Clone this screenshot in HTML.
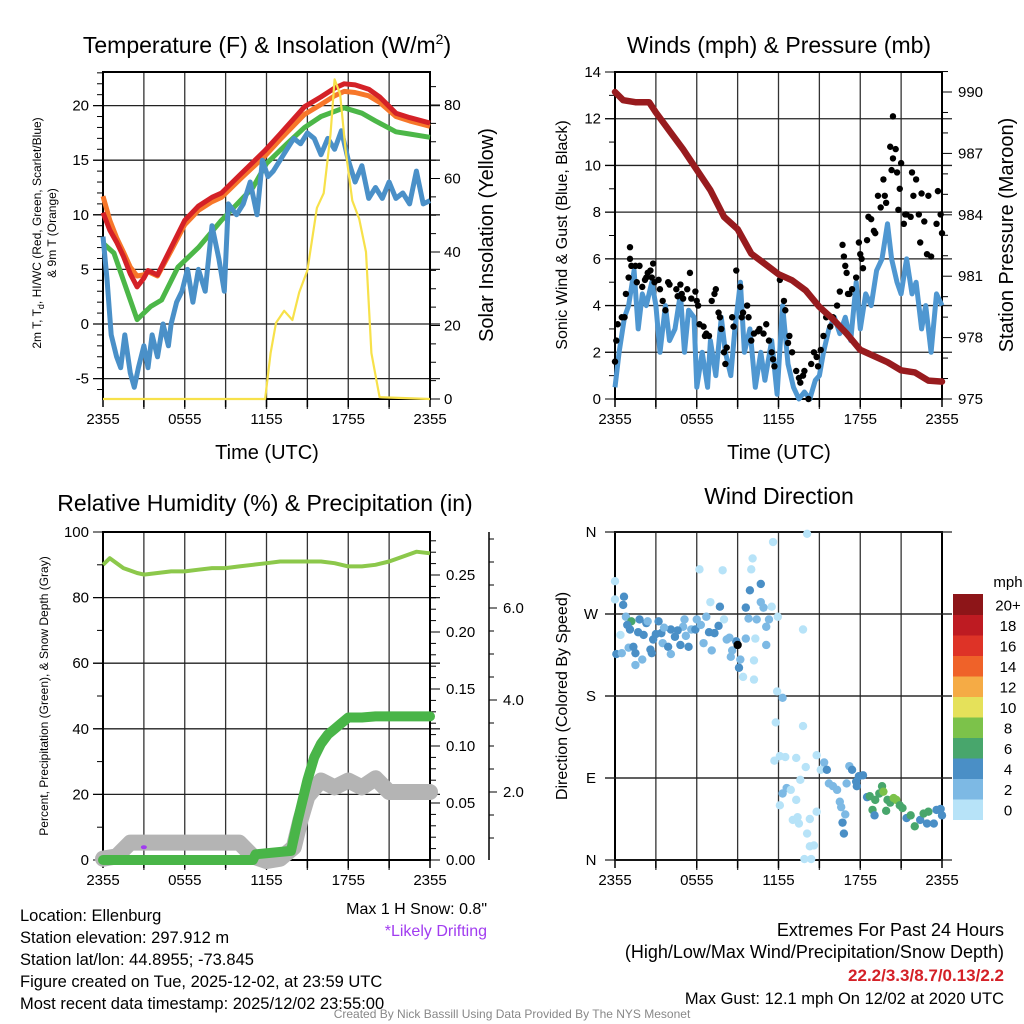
<!DOCTYPE html>
<html><head><meta charset="utf-8"><title>Mesonet Station Summary</title>
<style>
html,body{margin:0;padding:0;background:#fff;}
svg{display:block;font-family:"Liberation Sans",sans-serif;}
</style></head>
<body>
<svg id="chart" width="1024" height="1024" viewBox="0 0 1024 1024"></svg>
<script>
// ---------------- DATA ----------------
const tempHours = [0,0.5,1,1.5,2,2.5,3,3.3,4,5,6,7,8,8.7,10,11.9,13,14.8,16,17,17.7,18.5,19.5,20.3,21.5,22.5,24];
const tempRed   = [10.2,8.6,7.5,6.2,4.6,3.4,4.2,4.9,4.5,7,9.5,10.8,11.6,12,13.6,15.9,17.4,19.9,20.8,21.6,22,21.9,21.5,20.8,19.3,18.9,18.4];
const temp9m    = [11.7,9.5,7.9,6.6,5.2,4.4,4.5,4.8,4.4,6.7,9.1,10.4,11.2,11.6,13.2,15.4,16.9,19.2,20.1,20.9,21.3,21.2,20.9,20.3,19,18.6,18.1];
const dewHours  = [0,0.8,1.5,2.5,3.5,4.3,5.5,7,8.7,11,12,13.5,14.8,16,17.7,19,20,21.5,22.5,24];
const dewGreen  = [7.4,6.5,4,0.4,1.6,2.2,5.2,7,9.5,12.5,14.7,16.5,18,19,19.8,19.3,18.6,17.6,17.4,17.1];
const wcHours   = [0,0.3,0.6,1,1.3,1.6,2,2.3,2.6,3,3.3,3.6,4,4.4,4.8,5,5.4,5.8,6.2,6.6,7,7.5,8,8.5,8.9,9.2,9.8,10.3,10.8,11.3,11.7,12.1,12.5,13,13.5,14,14.5,15,15.5,16,16.5,17,17.5,18,18.5,19,19.5,20,20.5,21,21.5,22,22.5,23,23.5,24];
const wcBlue    = [8,4,-1,-3,-4,-1,-4.5,-5.8,-4,-2,-4,-1,-3,0,-2,0,2,3,5,2,5,3,9,6,3,11,10,11,13,10,15,13.5,14,15,16,17,16.5,17.5,17,15.5,17,16,17.7,15,13,14.5,11.5,12.5,11.5,13,11.5,12,11,14,11,11.3];
const solarHours = [0,11.9,12.3,12.7,13.3,13.9,14.4,15,15.7,16.2,16.7,17,17.4,17.8,18.3,18.8,19.3,19.7,20.3,24];
const solarVals  = [0,0,12.5,20.7,24,21.5,29,35,52,56,72,87,83,68,54,49,40,12.5,0.5,0];
const presHours = [0,0.6,1.5,2,2.5,3,4,5,6,7,8,9,10,11,12,13,14,15,16,17,18,19,20,21,22,23,24];
const presVals  = [990.0,989.6,989.5,989.5,989.5,989,988.1,987.2,986.2,985.2,983.9,983.3,982.1,981.6,981.1,980.8,980.3,979.5,978.9,978.2,977.4,977.1,976.8,976.4,976.3,975.9,975.85];
const windHours = [0,0.3,0.7,1,1.4,1.7,2,2.3,2.7,3,3.3,3.7,4,4.4,4.8,5.1,5.4,5.8,6,6.4,6.8,7,7.4,7.8,8.1,8.5,8.8,9.2,9.5,9.9,10.3,10.7,11,11.5,11.9,12.3,12.7,13.1,13.5,13.9,14.3,14.7,15,15.3,15.7,16.1,16.5,16.9,17.3,17.7,18,18.4,18.8,19.2,19.6,20,20.3,20.7,21,21.4,21.8,22.1,22.5,22.8,23.2,23.6,24];
const windVals  = [0.5,2,3.5,4,5.5,3,4.5,4,5,4,2,4,2.5,3,4.5,2,3.8,3.5,0.5,2,0.5,2.5,1,3.5,2,1,3,5,2,3,0.5,2,0.8,2.5,0.2,4,1.5,0.5,0,0.3,0,0.8,1,2,3,3.5,2.8,3.5,2.5,5,3,4.5,4,5.5,6,7.5,6,5,4.5,6,4.5,5,3,4,2,4.5,4];
const gustHours = [0,0.1,0.2,0.5,0.7,0.8,1,1.1,1.1,1.2,1.5,1.6,1.8,2,2.2,2.3,2.4,2.6,2.8,2.7,2.9,3.2,3.3,3.5,3.7,3.9,4,4.5,4.6,4.8,4.9,5,5.3,5.5,5.6,5.9,6,6.1,6.2,6.5,6.6,6.7,6.9,7.1,7.3,7.4,7.6,7.7,7.8,8,8.1,8.2,8.6,8.7,8.9,9.2,9.3,9.4,9.7,9.8,10,10.2,10.5,10.6,10.9,11.1,11.3,11.5,11.6,11.7,12.1,12.4,12.5,12.7,12.8,13,13.3,13.5,13.6,13.8,13.9,14.2,14.4,14.6,14.8,14.9,15.1,15.3,15.5,15.8,16,16.3,16.5,16.7,16.8,16.9,17,17.1,17.2,17.4,17.7,17.9,18,18.1,18.2,18.5,18.6,18.8,19,19.1,19.3,19.5,19.7,19.8,19.9,20.2,20.3,20.4,20.4,20.6,20.7,20.8,20.9,21,21.2,21.3,21.4,21.7,21.8,21.9,22.1,22.3,22.4,22.5,22.7,22.9,23,23.2,23.6,23.7,23.9,24];
const gustVals  = [1.6,2.5,3.2,3.5,3.5,4.5,5.2,6,6.5,5.7,5.7,5,5.7,4.8,5.1,5.2,5.4,5.5,5.8,5.2,5,5.1,4.7,4.2,3.8,5,4.9,4.7,4.4,4.9,4.5,4.3,4.7,5.4,4.3,4.6,4.2,4,3.2,3.1,2.7,2.8,2.7,4.2,4.5,4.7,3.7,3.5,3,2,1.5,2.2,3.5,3.1,5.5,4.8,3.5,3.7,4,3.5,2.5,2.8,2.9,3,2.8,3.2,2.5,2,1.7,1.4,5.1,4.2,3.8,2.4,2.7,2,1.2,0.9,0.7,1,1.2,0,1.5,2,1.8,1.4,2.1,2.7,3.5,3.1,3.5,4,4.6,6.6,6.1,5.7,5.4,4.5,4.5,4.7,5.2,6.7,6.2,6,5.6,6.8,7.8,7.7,7.2,7.1,8.7,8.2,9.4,8.7,8.4,10.8,9.8,10.3,12.1,10.7,9.7,8.1,9,10.1,7.5,7.9,7.9,7.8,9.7,8.7,9.4,7.9,6.7,8.8,7.6,6.2,8.7,6.1,7.5,8.9,7.9,7.1];
const rhHours = [0,0.5,1.5,2.5,3,4,5,6,7,8,9,10,11,12,13,14,15,16,17,18,19,20,21,22,23,24];
const rhVals  = [90,92,89,87.5,87,87.5,88,88,88.5,89,89,89.5,90,90.5,91,91,91,91,90.5,89.5,89.5,90,91,92.5,94,93.5];
const precipHours = [0,11,11.2,13.8,14.3,15,15.5,16,16.5,17,17.5,18,19,20,24];
const precipVals  = [0,0,0.005,0.008,0.035,0.07,0.09,0.102,0.11,0.115,0.12,0.125,0.125,0.126,0.126];
const snowHours = [0,1,2,3,10,11,12,13,14,14.5,15,16,17,18,19,20,21,24];
const snowVals  = [0.55,0.6,0.9,0.9,0.9,0.6,0.5,0.55,0.8,1.4,1.9,2.25,2.1,2.25,2.1,2.3,2.0,2.0];
const driftHours = [3];
const driftVals  = [0.8];
const dirHours = [0,0,0.66,0.6,0.8,1.2,1.1,0.4,0.1,0.5,1.0,1.35,1.5,1.5,1.8,2.1,2.3,2.0,2.6,2.7,2.8,3.2,3.4,3.5,3.9,4.1,4.1,4.4,4.8,5.0,5.1,5.4,5.6,6.0,5.9,6.2,6.5,6.7,7.0,7.1,7.3,7.6,7.7,7.9,8.0,8.2,8.5,8.6,8.9,9.1,9.2,9.4,9.6,9.6,9.8,9.9,10.0,10.1,10.2,10.2,10.3,10.4,10.7,10.7,10.9,11.1,11.3,11.1,11.5,11.6,11.95,11.9,12.3,11.8,11.7,12.1,12.5,12.3,12.6,12.9,13.3,12.1,13.3,13.05,13.4,13.5,14.1,13.8,13.8,13.6,14.0,14.1,14.3,14.6,14.3,13.9,14.4,14.8,14.8,15.1,15.35,15.55,15.7,16.0,16.3,16.5,16.6,16.7,16.8,16.9,17.0,17.2,17.4,17.7,17.75,17.9,18.2,18.5,18.7,18.9,19.1,19.05,19.4,19.6,19.7,19.9,20.0,20.2,20.45,20.65,20.9,21.1,21.4,21.7,22.0,22.4,22.65,23.0,22.9,23.4,23.6,23.9,24.0,0.9,1.7,2.4,3.0,3.6,4.6,5.2,6.3,6.9,8.4,9.0];
const dirDeg   = [306,286,289,280,267,262,253,247,226,227,233,234,227,214,264,247,260,220,231,227,242,262,249,238,234,226,253,245,236,256,264,234,253,264,253,319,238,267,283,230,249,257,278,318,264,242,223,230,240,211,220,201,277,243,265,296,319,331,219,198,243,264,283,303,277,256,264,236,278,349,267,185,178,151,109,114,113,73,79,77,66,60,112,44,47,40,358,253,147,88,102,29,45,16,15,1,1,53,115,99,107,99,84,81,77,64,58,41,29,50,84,103,99,86,81,92,93,69,70,55,66,49,73,81,75,54,66,63,68,66,60,57,46,49,37,44,51,53,40,40,55,56,49,258,250,262,248,255,252,246,258,250,244,236];
const dirSpeed = [1,1,5,5,3,7,5,1,5,3,3,5,5,3,5,5,5,3,5,5,5,5,5,3,5,3,5,5,5,3,3,5,3,3,5,1,3,3,1,3,5,5,5,1,1,3,3,3,5,5,3,1,5,3,3,5,1,1,1,1,1,3,3,5,3,3,3,3,1,1,1,1,3,1,1,1,1,3,3,1,1,1,1,1,1,1,1,1,1,1,1,1,1,1,1,1,1,1,1,1,3,5,3,3,3,3,3,5,5,3,3,3,5,5,5,5,5,5,7,7,7,5,7,7,9,7,7,7,9,9,7,7,5,7,7,5,7,7,5,5,5,5,5,5,5,3,5,3,5,3,3,5,3];
const speedBinLabels = ["0","2","4","6","8","10","12","14","16","18","20+"];
const speedBinColors = ["#b7e3f8","#7db9e4","#4a8fc6","#48a66c","#7cc24a","#e5e15a","#f5ab45","#ef6229","#de3327","#be1b22","#8d1518"];
const timeTickLabels = ["2355","0555","1155","1755","2355"];
const tempTicks = [-5,0,5,10,15,20];
const solarTicks = [0,20,40,60,80];
const windTicks = [0,2,4,6,8,10,12,14];
const presTicks = [975,978,981,984,987,990];
const rhTicks = [0,20,40,60,80,100];
const precipTicks = [0.00,0.05,0.10,0.15,0.20,0.25];
const snowTicks = [2.0,4.0,6.0];
const dirTicks = [0,90,180,270,360];
const dirTickLabels = ["N","E","S","W","N"];

// ---------------- HELPERS ----------------
const NS = "http://www.w3.org/2000/svg";
const svg = document.getElementById("chart");
function el(tag, attrs, name, parent) {
  const e = document.createElementNS(NS, tag);
  for (const k in attrs) e.setAttribute(k, attrs[k]);
  
  
  (parent || svg).appendChild(e);
  return e;
}
function txt(x, y, s, size, name, opts) {
  opts = opts || {};
  const t = el("text", {x: x, y: y, "font-size": size, fill: opts.fill || "#000",
    "text-anchor": opts.anchor || "middle", "font-weight": opts.weight || "normal"}, name);
  if (opts.rot) t.setAttribute("transform", "rotate(" + opts.rot + " " + x + " " + y + ")");
  t.textContent = s;
  return t;
}
function span(t, s, attrs) {
  const sp = document.createElementNS(NS, "tspan");
  for (const k in attrs) sp.setAttribute(k, attrs[k]);
  sp.textContent = s; t.appendChild(sp); return sp;
}
function scale(d0, d1, r0, r1) { return v => r0 + (v - d0) * (r1 - r0) / (d1 - d0); }
function pathFrom(xs, ys, fx, fy) {
  return xs.map((h, i) => (i ? "L" : "M") + fx(h).toFixed(1) + "," + fy(ys[i]).toFixed(1)).join("");
}
function panelFrame(L, R, T, B, prefix, hGridVals, fy) {
  const fx = scale(0, 24, L, R);
  for (let h = 3; h < 24; h += 3) {
    el("line", {x1: fx(h), x2: fx(h), y1: T - 1, y2: B + 10, stroke: "#333", "stroke-width": 1.3}, prefix + "-vgrid");
  }
  hGridVals.forEach(v => {
    el("line", {x1: L - 10, x2: R + 10, y1: fy(v), y2: fy(v), stroke: "#222", "stroke-width": 1.3}, prefix + "-hgrid");
  });
  el("rect", {x: L, y: T, width: R - L, height: B - T, fill: "none", stroke: "#000", "stroke-width": 2}, prefix + "-plot-frame");
  for (let h = 0; h <= 24; h += 3) {
    el("line", {x1: fx(h), x2: fx(h), y1: B, y2: B + 8, stroke: "#000", "stroke-width": 1.5}, prefix + "-x-tick");
  }
  timeTickLabels.forEach((s, i) => txt(fx(i * 6), B + 25, s, 15, prefix + "-x-tick-label"));
  return fx;
}

// ---------------- PANEL 1 ----------------
(function(){
  const L = 103, R = 430, T = 72, B = 399;
  const fy = scale(0, 5, 324, 269.4);
  const fyS = scale(0, 80, 399, 105);
  const fx = panelFrame(L, R, T, B, "temp", tempTicks, fy);
  for (let v = -6; v <= 23; v++) el("line", {x1: L - (v % 5 === 0 ? 10 : 6), x2: L, y1: fy(v), y2: fy(v), stroke: "#000", "stroke-width": 1}, "temp-y-tick");
  tempTicks.forEach(v => txt(L - 14, fy(v) + 5, String(v), 15, "temp-y-tick-label", {anchor: "end"}));
  for (let v = 0; v <= 88; v += 5) el("line", {x1: R, x2: R + (v % 20 === 0 ? 10 : 6), y1: fyS(v), y2: fyS(v), stroke: "#000", "stroke-width": 1}, "solar-y-tick");
  solarTicks.forEach(v => txt(R + 14, fyS(v) + 5, String(v), 15, "solar-y-tick-label", {anchor: "start"}));
  el("path", {d: pathFrom(tempHours, temp9m, fx, fy), fill: "none", stroke: "#f7772a", "stroke-width": 5, "stroke-linejoin": "round"}, "temp-9m-line");
  el("path", {d: pathFrom(tempHours, tempRed, fx, fy), fill: "none", stroke: "#d42127", "stroke-width": 5, "stroke-linejoin": "round"}, "temp-2m-line");
  el("path", {d: pathFrom(dewHours, dewGreen, fx, fy), fill: "none", stroke: "#4cb748", "stroke-width": 5, "stroke-linejoin": "round"}, "dewpoint-line");
  el("path", {d: pathFrom(wcHours, wcBlue, fx, fy), fill: "none", stroke: "#4a90c8", "stroke-width": 5, "stroke-linejoin": "round"}, "windchill-line");
  el("path", {d: pathFrom(solarHours, solarVals, fx, fyS), fill: "none", stroke: "#f7e14a", "stroke-width": 2.2, "stroke-linejoin": "round"}, "solar-line");
  const t = txt(267, 53, "Temperature (F) & Insolation (W/m", 23, "temp-panel-title");
  span(t, "2", {dy: "-9", "font-size": "14"});
  span(t, ")", {dy: "9"});
  const yt = txt(41, 233, "2m T, T", 12, "temp-y-axis-title", {rot: -90});
  span(yt, "d", {dy: "3", "font-size": "9"});
  span(yt, ", HI/WC (Red, Green, Scarlet/Blue)", {dy: "-3"});
  txt(56, 233, "& 9m T (Orange)", 12, "temp-y-axis-title-2", {rot: -90});
  txt(267, 459, "Time (UTC)", 20, "temp-x-axis-title");
  txt(493, 235, "Solar Insolation (Yellow)", 20, "solar-y-axis-title", {rot: -90});
})();

// ---------------- PANEL 2 ----------------
(function(){
  const L = 615, R = 942, T = 72, B = 399;
  const fy = scale(0, 14, 399, 72);
  const fyP = scale(975, 990, 399, 92);
  const fx = panelFrame(L, R, T, B, "wind", windTicks.slice(1, 7), fy);
  for (let v = 0; v <= 14; v++) el("line", {x1: L - (v % 2 === 0 ? 10 : 6), x2: L, y1: fy(v), y2: fy(v), stroke: "#000", "stroke-width": 1}, "wind-y-tick");
  windTicks.forEach(v => txt(L - 14, fy(v) + 5, String(v), 15, "wind-y-tick-label", {anchor: "end"}));
  for (let v = 975; v <= 991; v++) el("line", {x1: R, x2: R + (v % 3 === 0 ? 10 : 6), y1: fyP(v), y2: fyP(v), stroke: "#000", "stroke-width": 1}, "pressure-y-tick");
  presTicks.forEach(v => txt(R + 16, fyP(v) + 5, String(v), 15, "pressure-y-tick-label", {anchor: "start"}));
  el("path", {d: pathFrom(windHours, windVals, fx, fy), fill: "none", stroke: "#4f97d1", "stroke-width": 5, "stroke-linejoin": "round"}, "sonic-wind-line");
  gustHours.forEach((h, i) => {
    el("circle", {cx: fx(h), cy: fy(gustVals[i]), r: 3.2, fill: "#000"}, "gust-point");
  });
  el("path", {d: pathFrom(presHours, presVals, fx, fyP), fill: "none", stroke: "#981b1e", "stroke-width": 6.5, "stroke-linejoin": "round", "stroke-linecap": "round"}, "pressure-line");
  txt(779, 53, "Winds (mph) & Pressure (mb)", 23, "wind-panel-title");
  txt(779, 459, "Time (UTC)", 20, "wind-x-axis-title");
  txt(567, 235, "Sonic Wind & Gust (Blue, Black)", 16, "wind-y-axis-title", {rot: -90});
  txt(1013, 235, "Station Pressure (Maroon)", 20, "pressure-y-axis-title", {rot: -90});
})();

// ---------------- PANEL 3 ----------------
(function(){
  const L = 103, R = 430, T = 532, B = 860;
  const fy = scale(0, 100, 860, 532);
  const fyP = scale(0, 0.25, 860, 575);
  const fyS = scale(0, 2, 884, 792);
  const fx = panelFrame(L, R, T, B, "rh", [20, 40, 60, 80], fy);
  for (let v = 0; v <= 100; v += 10) el("line", {x1: L - (v % 20 === 0 ? 10 : 6), x2: L, y1: fy(v), y2: fy(v), stroke: "#000", "stroke-width": 1}, "rh-y-tick");
  rhTicks.forEach(v => txt(L - 14, fy(v) + 5, String(v), 15, "rh-y-tick-label", {anchor: "end"}));
  for (let v = 0; v <= 0.285; v += 0.01) el("line", {x1: R, x2: R + (Math.round(v * 100) % 5 === 0 ? 10 : 6), y1: fyP(v), y2: fyP(v), stroke: "#000", "stroke-width": 1}, "precip-y-tick");
  precipTicks.forEach(v => txt(R + 16, fyP(v) + 5, v.toFixed(2), 15, "precip-y-tick-label", {anchor: "start"}));
  el("line", {x1: 489, x2: 489, y1: T, y2: B, stroke: "#000", "stroke-width": 1.5}, "snow-axis-line");
  for (let v = 0.5; v <= 7.5; v += 0.5) { if (fyS(v) < T || fyS(v) > B) continue;
    el("line", {x1: 489, x2: 489 + (v % 2 === 0 ? 8 : 5), y1: fyS(v), y2: fyS(v), stroke: "#000", "stroke-width": 1}, "snow-y-tick"); }
  snowTicks.forEach(v => txt(503, fyS(v) + 5, v.toFixed(1), 15, "snow-y-tick-label", {anchor: "start"}));
  el("path", {d: pathFrom(snowHours, snowVals, fx, fyS), fill: "none", stroke: "#b4b4b4", "stroke-width": 16, "stroke-linejoin": "round", "stroke-linecap": "round"}, "snow-depth-line");
  el("path", {d: pathFrom(precipHours, precipVals, fx, fyP), fill: "none", stroke: "#49b548", "stroke-width": 10, "stroke-linejoin": "round", "stroke-linecap": "round"}, "precip-line");
  el("path", {d: pathFrom(rhHours, rhVals, fx, fy), fill: "none", stroke: "#8cc84b", "stroke-width": 4, "stroke-linejoin": "round"}, "rh-line");
  driftHours.forEach((h, i) => {
    el("ellipse", {cx: fx(h), cy: fyS(driftVals[i]), rx: 3, ry: 2, fill: "#a13cf0"}, "drifting-marker");
  });
  txt(265, 511, "Relative Humidity (%) & Precipitation (in)", 23, "rh-panel-title");
  txt(48, 696, "Percent, Precipitation (Green), & Snow Depth (Gray)", 12, "rh-y-axis-title", {rot: -90});
})();

// ---------------- PANEL 4 ----------------
(function(){
  const L = 615, R = 942, T = 532, B = 860;
  const fy = scale(0, 360, 860, 532);
  const fx = panelFrame(L, R, T, B, "dir", [90, 180, 270], fy);
  dirTicks.forEach(v => el("line", {x1: L - 10, x2: R + 10, y1: fy(v), y2: fy(v), stroke: "#222", "stroke-width": 1.3}, "dir-y-tick"));
  dirTicks.forEach((v, i) => txt(591, fy(v) + 5, dirTickLabels[i], 15, "dir-y-tick-label"));
  dirHours.forEach((h, i) => {
    const c = speedBinColors[Math.min(10, Math.floor(dirSpeed[i] / 2))];
    el("circle", {cx: fx(h), cy: fy(dirDeg[i]), r: 4.2, fill: c}, "direction-point");
  });
  txt(779, 504, "Wind Direction", 23, "dir-panel-title");
  txt(567, 696, "Direction (Colored By Speed)", 16, "dir-y-axis-title", {rot: -90});
  const cbTop = 594, cbH = 20.5;
  speedBinColors.forEach((c, i) => {
    const y = cbTop + (10 - i) * cbH;
    el("rect", {x: 953, y: y, width: 30, height: cbH + 0.5, fill: c}, "colorbar-swatch");
    txt(1008, y + cbH / 2 + 6, speedBinLabels[i], 15, "colorbar-label");
  });
  txt(1008, 587, "mph", 15, "colorbar-title");
})();

// ---------------- FOOTER TEXT ----------------
const infoLines = ["Location: Ellenburg","Station elevation: 297.912 m","Station lat/lon: 44.8955; -73.845","Figure created on Tue, 2025-12-02, at 23:59 UTC","Most recent data timestamp: 2025/12/02 23:55:00"];
infoLines.forEach((s, i) => txt(20, 921 + i * 22, s, 16.5, "station-info-line", {anchor: "start"}));
txt(487, 914, "Max 1 H Snow: 0.8\"", 16, "max-snow-note", {anchor: "end"});
txt(487, 936, "*Likely Drifting", 16, "drifting-note", {anchor: "end", fill: "#a13cf0"});
txt(1004, 936, "Extremes For Past 24 Hours", 18, "extremes-title", {anchor: "end"});
txt(1004, 958, "(High/Low/Max Wind/Precipitation/Snow Depth)", 18, "extremes-subtitle", {anchor: "end"});
txt(1004, 981, "22.2/3.3/8.7/0.13/2.2", 17, "extremes-values", {anchor: "end", fill: "#d42127", weight: "bold"});
txt(1004, 1004, "Max Gust: 12.1 mph On 12/02 at 2020 UTC", 16.5, "max-gust-note", {anchor: "end"});
txt(512, 1018, "Created By Nick Bassill Using Data Provided By The NYS Mesonet", 12, "credit-line", {fill: "#888"});
</script>
</body></html>
